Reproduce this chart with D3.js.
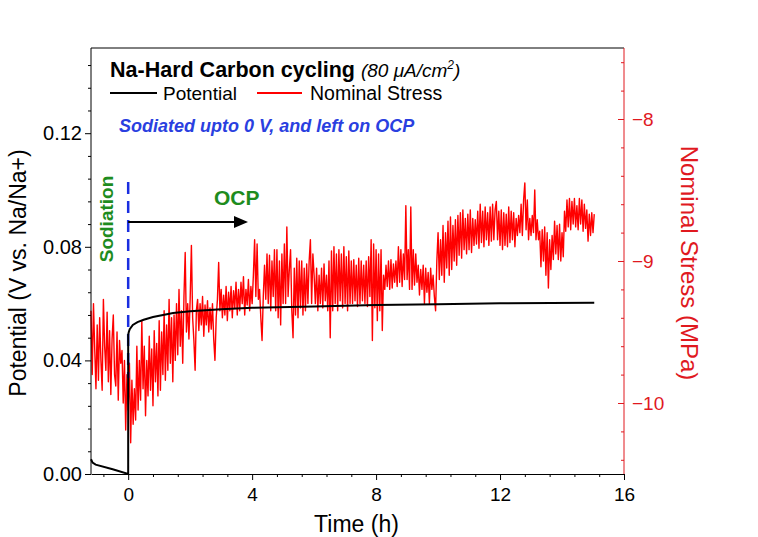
<!DOCTYPE html>
<html>
<head>
<meta charset="utf-8">
<script src="https://cdn.jsdelivr.net/npm/d3@7"></script>
<style>
  body { margin: 0; background: #fff; }
  svg { display: block; }
  text { font-family: Arial, "Liberation Sans", sans-serif; }
</style>
</head>
<body>
<svg id="chart" width="758" height="537"></svg>
<script>
// ---------------- DATA ----------------
// Potential (V vs. Na/Na+) vs time (h)
const potentialTime = [-1.2, -1.15, -1.05, -0.5, 0, 0, 0.02, 0.05, 0.15, 0.3, 0.5, 0.8, 1.45, 2, 3, 4, 6, 8, 10, 12, 15.04];
const potentialValue = [0.0052, 0.0040, 0.0033, 0.0017, 0.0, 0.049, 0.0500, 0.0510, 0.0525, 0.0535, 0.0543, 0.0553, 0.0567, 0.0573, 0.0580, 0.0585, 0.0590, 0.0595, 0.0598, 0.0601, 0.0603];

// Nominal stress (MPa), one reading every 0.04 h starting at -1.2 h (10 readings per row)
const stressStart = -1.2;
const stressStep = 0.04;
const stressValue = [
  -9.35, -9.80, -9.30, -9.62, -9.90, -9.45, -9.84, -9.40, -9.70, -9.91,   // -1.20
  -9.27, -9.60, -9.77, -9.36, -9.85, -9.49, -9.94, -9.55, -9.38, -9.80,   // -0.80
  -9.88, -9.50, -9.98, -9.56, -9.72, -9.63, -10.00, -9.70, -10.19, -9.80, // -0.40
  -10.05, -9.72, -10.28, -9.84, -10.15, -9.90, -10.12, -9.60, -10.05, -9.70, // 0.00
  -9.98, -9.42, -9.90, -9.60, -10.09, -9.70, -9.95, -9.53, -9.91, -9.62,  // 0.40
  -10.02, -9.49, -9.85, -9.58, -9.95, -9.42, -9.91, -9.50, -9.80, -9.35,  // 0.80
  -9.84, -9.45, -9.77, -9.27, -9.72, -9.40, -9.85, -9.38, -9.70, -9.30,   // 1.20
  -9.66, -9.20, -9.60, -9.35, -9.72, -9.25, -8.94, -9.50, -9.30, -9.55,   // 1.60
  -9.27, -8.89, -9.40, -9.56, -9.77, -9.35, -9.27, -9.49, -9.30, -9.45,   // 2.00
  -9.25, -9.53, -9.31, -9.45, -9.28, -9.50, -9.33, -9.48, -9.30, -9.55,   // 2.40
  -9.70, -9.40, -9.27, -9.01, -9.35, -9.20, -9.40, -9.24, -9.38, -9.18,   // 2.80
  -9.42, -9.22, -9.35, -9.18, -9.40, -9.21, -9.33, -9.15, -9.38, -9.20,   // 3.20
  -9.35, -9.15, -9.30, -9.11, -9.38, -9.20, -9.31, -9.13, -9.35, -9.18,   // 3.60
  -9.30, -9.10, -8.85, -9.25, -8.88, -9.27, -9.20, -9.40, -9.56, -9.25,   // 4.00
  -9.03, -9.27, -8.95, -9.30, -8.96, -9.35, -9.00, -9.25, -8.92, -9.35,   // 4.40
  -8.92, -9.40, -9.00, -9.45, -8.95, -9.30, -8.88, -9.30, -8.76, -9.25,   // 4.80
  -9.06, -8.92, -9.35, -9.54, -9.05, -9.38, -8.98, -9.40, -9.00, -9.33,   // 5.20
  -9.00, -9.38, -9.05, -9.35, -9.02, -9.30, -9.00, -8.85, -9.30, -8.95,   // 5.60
  -9.10, -9.30, -9.05, -9.35, -9.10, -9.30, -9.05, -9.33, -9.02, -9.28,   // 6.00
  -9.10, -9.35, -9.00, -9.54, -8.93, -9.35, -8.90, -9.30, -8.95, -9.35,   // 6.40
  -8.92, -9.28, -8.95, -9.33, -8.90, -9.30, -8.97, -9.35, -8.93, -9.30,   // 6.80
  -9.00, -9.30, -8.99, -9.28, -9.03, -9.32, -8.98, -9.30, -9.00, -9.28,   // 7.20
  -9.03, -9.30, -9.00, -9.32, -8.97, -9.25, -8.85, -9.56, -8.88, -9.33,   // 7.60
  -8.92, -9.42, -8.95, -9.35, -8.92, -9.49, -9.10, -9.20, -9.03, -9.18,   // 8.00
  -9.00, -9.20, -8.99, -9.19, -9.02, -9.15, -9.00, -9.18, -8.90, -9.15,   // 8.40
  -8.92, -9.18, -8.95, -9.13, -8.61, -9.13, -8.92, -9.20, -8.62, -9.20,   // 8.80
  -8.92, -9.17, -8.95, -9.15, -9.03, -9.24, -9.06, -9.20, -9.03, -9.30,   // 9.20
  -9.05, -9.22, -9.08, -9.30, -9.05, -9.20, -9.10, -9.25, -9.35, -9.00,   // 9.60
  -8.80, -9.13, -8.85, -9.10, -8.75, -9.15, -8.80, -9.05, -8.72, -9.10,   // 10.00
  -8.69, -9.06, -8.75, -9.00, -8.71, -9.03, -8.68, -8.96, -8.66, -8.98,   // 10.40
  -8.64, -8.92, -8.70, -8.95, -8.67, -8.92, -8.64, -8.94, -8.70, -8.89,   // 10.80
  -8.71, -8.88, -8.65, -8.91, -8.60, -8.87, -8.65, -8.90, -8.62, -8.85,   // 11.20
  -8.66, -8.89, -8.62, -8.86, -8.60, -8.85, -8.64, -8.58, -8.85, -8.65,   // 11.60
  -8.89, -8.64, -8.92, -8.66, -8.89, -8.67, -8.90, -8.62, -8.87, -8.65,   // 12.00
  -8.85, -8.66, -8.90, -8.70, -8.82, -8.68, -8.80, -8.60, -8.82, -8.57,   // 12.40
  -8.45, -8.78, -8.57, -8.85, -8.70, -8.82, -8.68, -8.80, -8.50, -8.85,   // 12.80
  -8.71, -8.85, -8.79, -9.04, -8.78, -9.00, -8.76, -9.10, -8.80, -9.19,   // 13.20
  -8.85, -9.06, -8.82, -8.99, -8.72, -8.95, -8.75, -8.99, -8.74, -9.00,   // 13.60
  -8.80, -8.97, -8.65, -8.79, -8.57, -8.76, -8.56, -8.78, -8.58, -8.74,   // 14.00
  -8.56, -8.76, -8.61, -8.78, -8.56, -8.74, -8.57, -8.79, -8.60, -8.77,   // 14.40
  -8.64, -8.86, -8.67, -8.82, -8.66, -8.80, -8.67                         // 14.80
];

const xTicks = [0, 4, 8, 12, 16];
const yLeftTicks = [0.00, 0.04, 0.08, 0.12];
const yRightTicks = [-10, -9, -8];

// ---------------- LAYOUT ----------------
const L = 91, R = 624, T = 48, B = 474;
const svg = d3.select("#chart");
const RED = "#ff0000";
const AXRED = "#e0191f";

const x = d3.scaleLinear().domain([-1.2, 16]).range([L, R]);
const yL = d3.scaleLinear().domain([0, 0.15]).range([B, T]);
const yR = d3.scaleLinear().domain([-10.5, -7.5]).range([B, T]);

const stressData = stressValue.map((v, i) => ({ t: stressStart + i * stressStep, v }));
const potData = potentialTime.map((t, i) => ({ t, v: potentialValue[i] }));

// stress line
svg.append("path")
  .datum(stressData)
  .attr("fill", "none")
  .attr("stroke", RED)
  .attr("stroke-width", 1.4)
  .attr("stroke-linejoin", "round")
  .attr("d", d3.line().x(d => x(d.t)).y(d => yR(d.v)));

// blue dashed line at t=0
svg.append("line")
  .attr("x1", x(0)).attr("x2", x(0))
  .attr("y1", 182).attr("y2", 378)
  .attr("stroke", "#1a2ee0").attr("stroke-width", 2.5)
  .attr("stroke-dasharray", "12,7");

// potential line
svg.append("path")
  .datum(potData)
  .attr("fill", "none")
  .attr("stroke", "#000")
  .attr("stroke-width", 2)
  .attr("d", d3.line().x(d => x(d.t)).y(d => yL(d.v)));

// ---------------- AXES ----------------
const fs = 19;
// bottom
const gx = svg.append("g").attr("transform", `translate(0,${B})`);
gx.call(d3.axisBottom(x).tickValues(xTicks).tickSize(6).tickSizeOuter(0).tickFormat(d3.format("d")));
const gxm = svg.append("g").attr("transform", `translate(0,${B})`);
gxm.call(d3.axisBottom(x).tickValues(d3.range(-0.8, 16, 0.8).filter(v => Math.abs(v / 4 - Math.round(v / 4)) > 1e-6)).tickSize(3).tickSizeOuter(0).tickFormat(""));
gxm.select(".domain").remove();
gx.selectAll("text").attr("font-size", fs).attr("dy", "0.95em").attr("fill", "#000");

// top border
svg.append("line").attr("x1", L).attr("x2", R).attr("y1", T).attr("y2", T).attr("stroke", "#000").attr("stroke-width", 1);

// left
const gy = svg.append("g").attr("transform", `translate(${L},0)`);
gy.call(d3.axisLeft(yL).tickValues(yLeftTicks).tickSize(6).tickSizeOuter(0).tickFormat(d3.format(".2f")));
gy.selectAll("text").attr("font-size", 20).attr("fill", "#000");
const gym = svg.append("g").attr("transform", `translate(${L},0)`);
gym.call(d3.axisLeft(yL).tickValues(d3.range(0.008, 0.15, 0.008).filter(v => Math.abs(v / 0.04 - Math.round(v / 0.04)) > 1e-6)).tickSize(3).tickSizeOuter(0).tickFormat(""));
gym.select(".domain").remove();
gy.select(".domain").attr("d", `M0,${T}V${B}`);

// right (ticks inward)
const gr = svg.append("g").attr("transform", `translate(${R},0)`);
gr.call(d3.axisRight(yR).tickValues(yRightTicks).tickSize(-6).tickSizeOuter(0).tickPadding(8).tickFormat(d3.format("d")));
gr.selectAll("text").attr("font-size", fs).attr("fill", AXRED);
gr.selectAll("line").attr("stroke", AXRED);
gr.select(".domain").attr("stroke", AXRED).attr("d", `M0,${T}V${B}`);
const grm = svg.append("g").attr("transform", `translate(${R},0)`);
grm.call(d3.axisRight(yR).tickValues(d3.range(-10.4, -7.5, 0.2).filter(v => Math.abs(v - Math.round(v)) > 1e-6)).tickSize(-3).tickSizeOuter(0).tickFormat(""));
grm.select(".domain").remove();
grm.selectAll("line").attr("stroke", AXRED);

// axis titles
svg.append("text").attr("x", (L + R) / 2 - 1).attr("y", 532).attr("text-anchor", "middle")
  .attr("font-size", 23).text("Time (h)");
svg.append("text").attr("transform", `translate(26,${(T + B) / 2 + 12}) rotate(-90)`).attr("text-anchor", "middle")
  .attr("font-size", 23).text("Potential (V vs. Na/Na+)");
svg.append("text").attr("transform", `translate(681,${(T + B) / 2 + 2}) rotate(90)`).attr("text-anchor", "middle")
  .attr("font-size", 24).attr("fill", AXRED).text("Nominal Stress (MPa)");

// ---------------- ANNOTATIONS ----------------
const title = svg.append("text").attr("x", 110).attr("y", 77);
title.append("tspan").attr("font-size", 21.5).attr("font-weight", "bold").text("Na-Hard Carbon cycling ");
title.append("tspan").attr("font-size", 19).attr("font-style", "italic").text("(80 \u03BCA/cm");
title.append("tspan").attr("font-size", 12).attr("font-style", "italic").attr("dy", -8).text("2");
title.append("tspan").attr("font-size", 19).attr("font-style", "italic").attr("dy", 8).text(")");

// legend
svg.append("line").attr("x1", 110).attr("x2", 157).attr("y1", 93).attr("y2", 93).attr("stroke", "#000").attr("stroke-width", 2);
svg.append("text").attr("x", 163).attr("y", 100).attr("font-size", 19).text("Potential");
svg.append("line").attr("x1", 257).attr("x2", 302).attr("y1", 93).attr("y2", 93).attr("stroke", RED).attr("stroke-width", 2);
svg.append("text").attr("x", 310).attr("y", 100).attr("font-size", 19.5).text("Nominal Stress");

svg.append("text").attr("x", 119).attr("y", 132).attr("font-size", 18).attr("font-weight", "bold")
  .attr("font-style", "italic").attr("fill", "#2a3fe0").text("Sodiated upto 0 V, and left on OCP");

svg.append("text").attr("transform", "translate(113,219) rotate(-90)").attr("text-anchor", "middle")
  .attr("font-size", 19).attr("font-weight", "bold").attr("fill", "#1e8c1e").text("Sodiation");
svg.append("text").attr("x", 214).attr("y", 205).attr("font-size", 21).attr("font-weight", "bold")
  .attr("fill", "#1e8c1e").text("OCP");

// arrow
svg.append("line").attr("x1", x(0)).attr("x2", 236).attr("y1", 222).attr("y2", 222)
  .attr("stroke", "#000").attr("stroke-width", 2);
svg.append("path").attr("d", "M234,216 L248,222 L234,228 Z").attr("fill", "#000");
</script>
</body>
</html>
